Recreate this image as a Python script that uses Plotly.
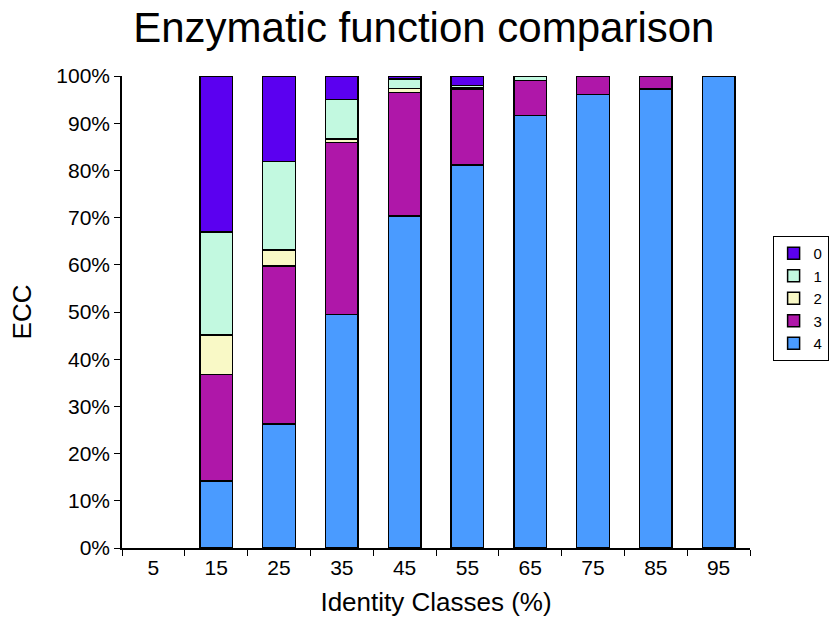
import plotly.graph_objects as go

categories = ["5", "15", "25", "35", "45", "55", "65", "75", "85", "95"]
ecc4 = [0, 14.2, 26.3, 49.5, 70.3, 81.1, 91.6, 96.1, 97.2, 100]
ecc3 = [0, 22.6, 33.4, 36.4, 26.2, 16.1, 7.5, 3.9, 2.8, 0]
ecc2 = [0, 8.3, 3.4, 0.8, 0.8, 0.3, 0, 0, 0, 0]
ecc1 = [0, 21.8, 18.8, 8.3, 2.1, 0.5, 0.9, 0, 0, 0]
ecc0 = [0, 33.1, 18.1, 5.0, 0.6, 2.0, 0, 0, 0, 0]

series = [("4", ecc4, "#4A9BFF"), ("3", ecc3, "#AF17A9"), ("2", ecc2, "#F9F9C6"),
          ("1", ecc1, "#C2F9E0"), ("0", ecc0, "#5B00F0")]

fig = go.Figure()
for name, vals, col in series:
    fig.add_trace(go.Bar(x=categories, y=[v if v else None for v in vals], name=name,
                         marker_color=col,
                         marker_line=dict(color="black", width=1.5)))

fig.update_layout(
    barmode="stack", bargap=0.48,
    width=831, height=617,
    margin=dict(l=122, r=81, t=76, b=69, autoexpand=False),
    plot_bgcolor="white", paper_bgcolor="white",
    font=dict(family="Liberation Sans, Arial, sans-serif", color="black", size=21),
    title=dict(text="Enzymatic function comparison", x=0.51, xanchor="center",
               y=0.956, yanchor="middle", font=dict(size=42)),
    legend=dict(traceorder="reversed", x=1.036, y=0.661, xanchor="left", yanchor="top",
                bordercolor="black", borderwidth=1, font=dict(size=15),
                itemwidth=30, tracegroupgap=0),
    xaxis=dict(title=dict(text="Identity Classes (%)", font=dict(size=26), standoff=16),
               showline=True, linecolor="black", linewidth=1.5, ticks="outside",
               tickson="boundaries", ticklen=6, tickcolor="black", showgrid=False,
               tickfont=dict(size=21)),
    yaxis=dict(title=dict(text="ECC", font=dict(size=26), standoff=17),
               range=[0, 100], dtick=10, ticksuffix="%",
               showline=True, linecolor="black", linewidth=1.5, ticks="outside",
               ticklen=6, tickcolor="black", showgrid=False, zeroline=False,
               tickfont=dict(size=21)),
)

fig.write_html("out.html")
